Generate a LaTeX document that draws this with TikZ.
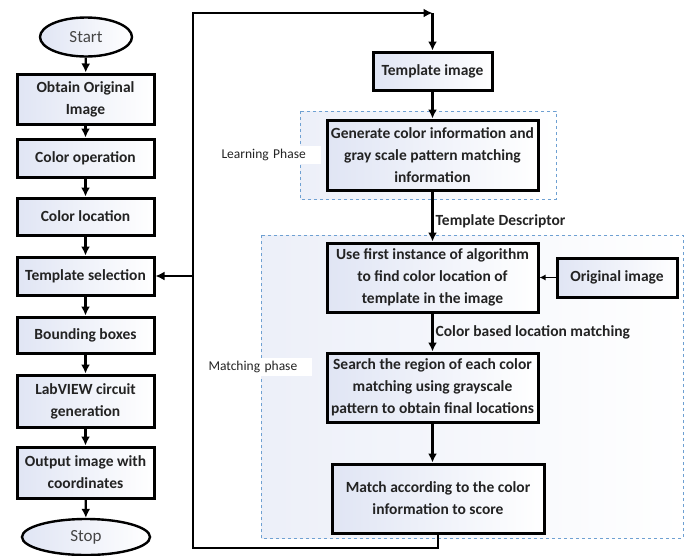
\documentclass[tikz,border=0pt]{standalone}
\usepackage{fontspec}
\setmainfont{Carlito}
\usetikzlibrary{shapes,arrows,arrows.meta}
\usetikzlibrary{positioning}
\definecolor{boxblue}{RGB}{224,229,244}
\definecolor{phaseblue}{RGB}{110,160,210}
\definecolor{txtgray}{RGB}{35,35,35}
\tikzset{
  stepbox/.style={draw, line width=3pt, left color=boxblue, right color=white, text=txtgray,
    font=\bfseries\fontsize{15.5}{22}\selectfont, align=center, inner sep=0pt},
  termnode/.style={ellipse, draw, line width=2.4pt, left color=boxblue, right color=white,
    text=txtgray!85, font=\fontsize{17}{19}\selectfont, inner sep=0pt},
  phasebox/.style={draw=phaseblue, dashed, line width=0.9pt, left color=boxblue!60, right color=white},
  phaselabel/.style={fill=white, text=txtgray, font=\fontsize{13.5}{15}\selectfont, anchor=west, align=left},
  flow/.style={line width=2.3pt, -{Latex[length=9pt,width=9pt]}},
  edgelabel/.style={text=txtgray, font=\bfseries\fontsize{15.5}{18}\selectfont, inner sep=2pt},
}
\begin{document}
\begin{tikzpicture}[x=1pt,y=-1pt]
\useasboundingbox (0,0) rectangle (688,555);

% phases
\draw[phasebox] (300,111) rectangle (556,199);
\draw[phasebox] (261,235) rectangle (683,538);
\node[phaselabel, text width=96pt] (learnlbl) at (218,155) {Learning Phase};
\node[phaselabel, text width=100pt] (matchlbl) at (205,367) {Matching phase};

% left column
\node[termnode, minimum width=92pt, minimum height=39pt] (start) at (86,37) {Start};
\node[stepbox, minimum width=137pt, minimum height=50pt] (obtain) at (85.5,99) {Obtain Original\\Image};
\node[stepbox, minimum width=137pt, minimum height=38pt] (colorop) at (85.5,158) {Color operation};
\node[stepbox, minimum width=137pt, minimum height=37pt] (colorloc) at (85.5,216.5) {Color location};
\node[stepbox, minimum width=137pt, minimum height=38pt] (tsel) at (85.5,276) {Template selection};
\node[stepbox, minimum width=137pt, minimum height=36pt] (bbox) at (85.5,335) {Bounding boxes};
\node[stepbox, minimum width=137pt, minimum height=52pt] (labview) at (85.5,401) {LabVIEW circuit\\generation};
\node[stepbox, minimum width=137pt, minimum height=51pt] (output) at (85.5,472.5) {Output image with\\coordinates};
\node[termnode, minimum width=128pt, minimum height=36pt] (stop) at (86,537) {Stop};

% right column
\node[stepbox, minimum width=119pt, minimum height=38pt] (timg) at (432.5,71) {Template image};
\node[stepbox, minimum width=211pt, minimum height=70pt] (gen) at (432.5,155) {Generate color information and\\gray scale pattern matching\\information};
\node[stepbox, minimum width=211pt, minimum height=69pt] (usefirst) at (432.5,277.5) {Use first instance of algorithm\\to find color location of\\template in the image};
\node[stepbox, minimum width=120pt, minimum height=39pt] (orig) at (617,277.5) {Original image};
\node[stepbox, minimum width=211pt, minimum height=69pt] (search) at (432.5,387.5) {Search the region of each color\\matching using grayscale\\pattern to obtain final locations};
\node[stepbox, minimum width=212pt, minimum height=69pt] (match) at (438,498.5) {Match according to the color\\information to score};

\coordinate (ltop) at (432.5,13);
\coordinate (lbot) at (193,548);

% arrows
\foreach \a/\b in {start/obtain, obtain/colorop, colorop/colorloc, colorloc/tsel, tsel/bbox, bbox/labview, labview/output, output/stop}
  \draw[flow] (\a) -- (\b);
\draw[flow] (timg) -- (gen);
\draw[flow] (gen) -- node[edgelabel, right, pos=0.6] {Template Descriptor} (usefirst);
\draw[flow] (usefirst) -- node[edgelabel, right] {Color based location matching} (search);
\draw[flow] (search.south) -- (search.south |- match.north);
\draw[line width=1.3pt, -{Latex[length=6pt,width=6pt]}] (orig) -- (usefirst);
\draw[flow] (match.south) -- (match.south |- lbot) -- (lbot) -- (lbot |- ltop) -- (ltop);
\draw[flow] (ltop) -- (timg);
\draw[flow] (lbot |- tsel.east) -- (tsel.east);
\end{tikzpicture}
\end{document}
